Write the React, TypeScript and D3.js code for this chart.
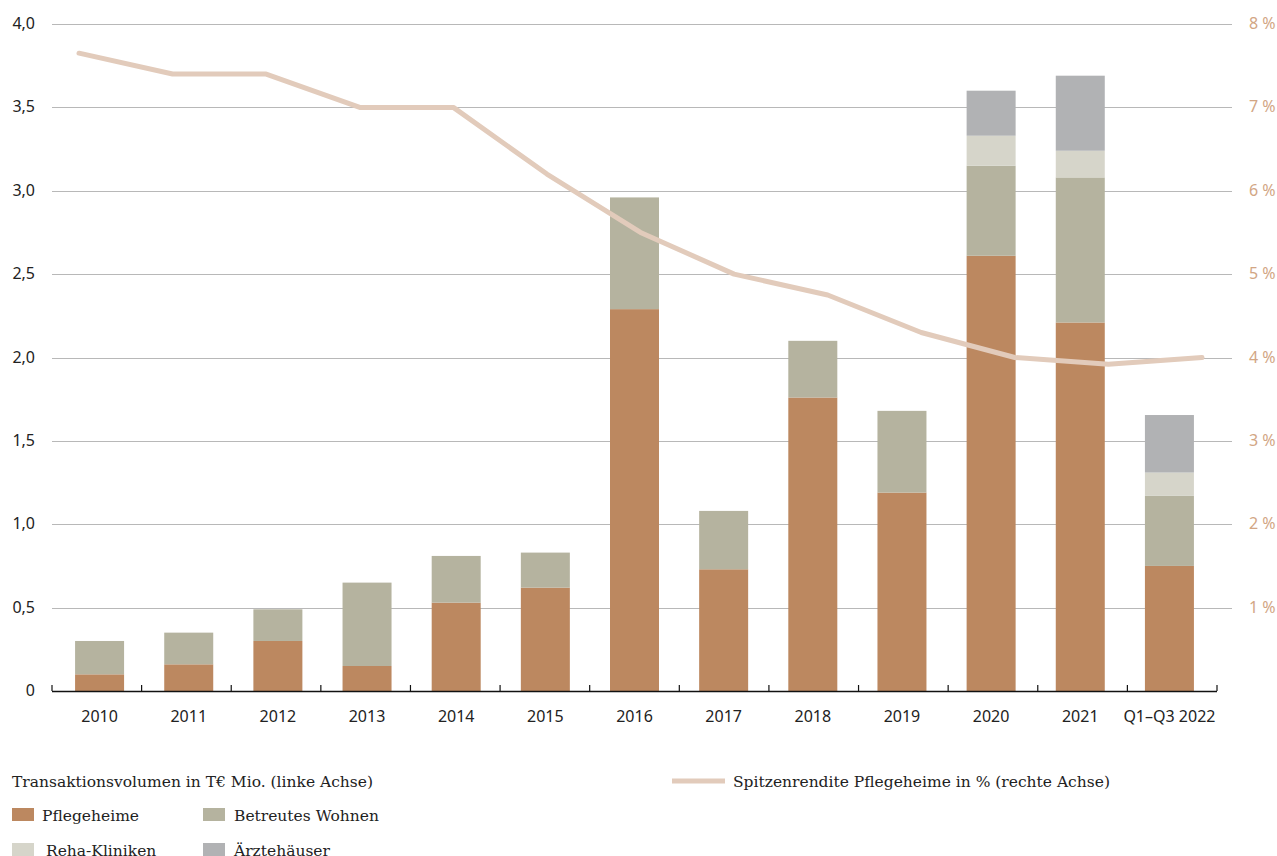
import React from "react";
import * as d3 from "d3";

const categories = ["2010","2011","2012","2013","2014","2015","2016","2017","2018","2019","2020","2021","Q1–Q3 2022"];
const pflegeheime = [0.10,0.16,0.30,0.15,0.53,0.62,2.29,0.73,1.76,1.19,2.61,2.21,0.75];
const betreutesWohnen = [0.20,0.19,0.19,0.50,0.28,0.21,0.67,0.35,0.34,0.49,0.54,0.87,0.42];
const rehaKliniken = [0,0,0,0,0,0,0,0,0,0,0.18,0.16,0.14];
const aerztehaeuser = [0,0,0,0,0,0,0,0,0,0,0.27,0.45,0.345];
const spitzenrendite = [7.65,7.4,7.4,7.0,7.0,6.2,5.5,5.0,4.75,4.3,4.0,3.92,4.0];
const leftTicks = [0,0.5,1,1.5,2,2.5,3,3.5,4];
const leftTickLabels = ["0","0,5","1,0","1,5","2,0","2,5","3,0","3,5","4,0"];
const rightTicks = [1,2,3,4,5,6,7,8];

const seriesNames = ["Pflegeheime","Betreutes Wohnen","Reha-Kliniken","Ärztehäuser"];
const colors = ["#bc8860","#b5b39f","#d6d5ca","#b1b2b4"];
const lineColor = "#e2cbbb";
const font = "'Noto Sans', sans-serif";
const legendFont = "'DejaVu Serif', serif";

export default function App() {
  const W = 1277, H = 856;
  const x0 = 52, x1 = 1217, yTop = 24, yBot = 691;
  const x = d3.scaleBand().domain(categories).range([x0, x1]);
  const xBar = d3.scaleBand().domain(categories).range([55, 1214]);
  const y = d3.scaleLinear().domain([0, 4]).range([yBot, yTop]);
  const yR = d3.scaleLinear().domain([0, 8]).range([yBot, yTop]);
  const xLine = d3.scalePoint().domain(categories).range([79, 1202]);

  const table = categories.map((c, i) => ({
    cat: c,
    s0: pflegeheime[i], s1: betreutesWohnen[i], s2: rehaKliniken[i], s3: aerztehaeuser[i],
  }));
  const stacked = d3.stack<any>().keys(["s0","s1","s2","s3"])(table);
  const barW = 49;

  const line = d3.line<number>()
    .x((_, i) => xLine(categories[i])!)
    .y((d) => yR(d))
    .curve(d3.curveLinear);

  return (
    <svg width={W} height={H} style={{ position: "absolute", left: 0, top: 0, background: "#fff" }}>
      {leftTicks.map((t, i) => (
        <g key={"g" + i}>
          {t > 0 && <line x1={x0} x2={1232} y1={Math.round(y(t)) + 0.5} y2={Math.round(y(t)) + 0.5} stroke="#b8b8b8" strokeWidth={1} />}
          <text x={35} y={y(t) + 5} textAnchor="end" fontFamily={font} fontSize={16} fill="#222">{leftTickLabels[i]}</text>
        </g>
      ))}
      {rightTicks.map((t) => (
        <text key={"r" + t} x={1249} y={yR(t) + 5} fontFamily={font} fontSize={16} fill="#d2a684">{t + " %"}</text>
      ))}
      {stacked.map((s, si) => (
        <g key={"s" + si} fill={colors[si]}>
          {s.map((d, i) => d[1] - d[0] > 0 ? (
            <rect key={i} x={xBar(categories[i])! + xBar.bandwidth() / 2 - barW / 2} y={y(d[1])} width={barW} height={y(d[0]) - y(d[1])} />
          ) : null)}
        </g>
      ))}
      <line x1={x0} x2={x1} y1={yBot + 0.5} y2={yBot + 0.5} stroke="#111" strokeWidth={1.5} />
      {[...categories.map((c) => x(c)!), x1].map((tx, i) => (
        <line key={"t" + i} x1={tx} x2={tx} y1={yBot - 6} y2={yBot} stroke="#111" strokeWidth={1.2} />
      ))}
      {categories.map((c) => (
        <text key={"c" + c} x={xBar(c)! + xBar.bandwidth() / 2} y={722} textAnchor="middle" fontFamily={font} fontSize={16} fill="#222">{c}</text>
      ))}
      <path d={line(spitzenrendite)!} fill="none" stroke={lineColor} strokeWidth={5} strokeLinecap="round" strokeLinejoin="round" />

      <text x={12} y={787} fontFamily={legendFont} fontSize={15.5} fill="#222">Transaktionsvolumen in T€ Mio. (linke Achse)</text>
      {seriesNames.map((n, i) => {
        const col = i % 2, row = Math.floor(i / 2);
        const lx = col === 0 ? 12 : 203;
        const ly = 808 + row * 35;
        return (
          <g key={"l" + i}>
            <rect x={lx} y={ly} width={22} height={13} fill={colors[i]} />
            <text x={lx + (col === 0 ? (i === 2 ? 34 : 30) : 31)} y={ly + 13} fontFamily={legendFont} fontSize={15.5} fill="#222">{n}</text>
          </g>
        );
      })}
      <line x1={672} x2={725} y1={781} y2={781} stroke={lineColor} strokeWidth={5} />
      <text x={733} y={787} fontFamily={legendFont} fontSize={15.5} fill="#222">Spitzenrendite Pflegeheime in % (rechte Achse)</text>
    </svg>
  );
}
